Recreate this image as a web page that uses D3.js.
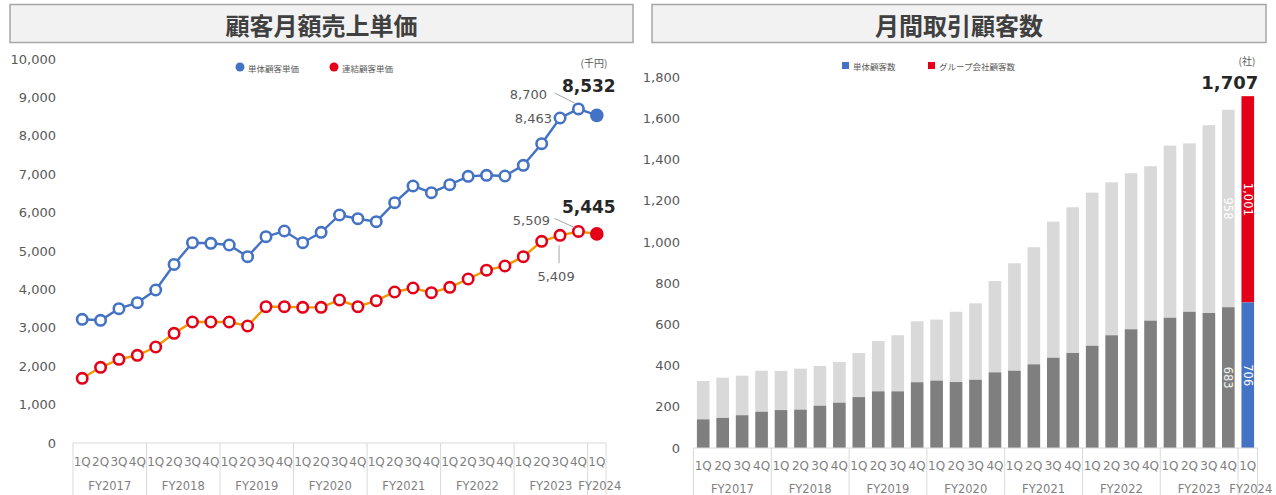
<!DOCTYPE html>
<html>
<head>
<meta charset="utf-8">
<script src="https://cdn.jsdelivr.net/npm/d3@7"></script>
<style>
  body { margin: 0; background: #fff; }
  svg { display: block; font-family: "Noto Sans CJK JP", "Noto Sans", sans-serif; }
</style>
</head>
<body>
<svg id="chart" width="1276" height="495"></svg>
<script>
// quarters / fiscal years shared by both charts
const quarters = ["1Q","2Q","3Q","4Q","1Q","2Q","3Q","4Q","1Q","2Q","3Q","4Q","1Q","2Q","3Q","4Q",
  "1Q","2Q","3Q","4Q","1Q","2Q","3Q","4Q","1Q","2Q","3Q","4Q","1Q"];
const years = ["FY2017","FY2018","FY2019","FY2020","FY2021","FY2022","FY2023","FY2024"];
const yearQuarters = [4, 4, 4, 4, 4, 4, 4, 1];

// left: 顧客月額売上単価 (千円)
const priceSingle = [3221, 3195, 3498, 3654, 3984, 4650, 5216, 5201, 5156, 4852, 5372, 5521, 5216, 5487,
  5938, 5841, 5763, 6258, 6693, 6518, 6727, 6945, 6971, 6953, 7232, 7794, 8463, 8700, 8532];
const priceConsol = [1685, 1971, 2180, 2284, 2500, 2857, 3151, 3151, 3151, 3047, 3550, 3550, 3533, 3533,
  3724, 3550, 3706, 3932, 4036, 3914, 4055, 4271, 4500, 4609, 4852, 5252, 5409, 5509, 5445];
const priceTicks = [0, 1000, 2000, 3000, 4000, 5000, 6000, 7000, 8000, 9000, 10000];

// right: 月間取引顧客数 (社)
const custSingle = [139, 146, 159, 176, 184, 186, 205, 220, 247, 275, 275, 319, 327, 320, 331, 367, 375,
  406, 438, 461, 496, 547, 576, 618, 632, 661, 655, 683, 706];
const custGroup = [186, 195, 192, 199, 190, 199, 193, 197, 214, 244, 272, 296, 296, 341, 371, 443, 521,
  568, 660, 707, 743, 742, 757, 749, 835, 817, 911, 958, 1001];
const custTicks = [0, 200, 400, 600, 800, 1000, 1200, 1400, 1600, 1800];

const svg = d3.select('#chart');
const fmt = d3.format(',');
const n = quarters.length;
const idx = d3.range(n);

const C_BLUE = '#4472c4';
const C_RED = '#e50019';
const C_ORANGE = '#f39800';
const C_TEXT = '#595959';
const C_CAT = '#7f7f7f';
const C_AXIS = '#d9d9d9';

function title_box(x, w, label) {
  svg.append('rect')
    .attr('x', x).attr('y', 4.5)
    .attr('width', w).attr('height', 38)
    .style('fill', '#f2f2f2')
    .style('stroke', '#a6a6a6')
    .style('stroke-width', 1.5);
  svg.append('text')
    .attr('x', x + w / 2).attr('y', 24)
    .attr('text-anchor', 'middle')
    .attr('dominant-baseline', 'central')
    .style('font-size', '24px')
    .style('font-weight', 'bold')
    .style('fill', '#404040')
    .text(label);
}

function y_axis(scale, ticks, x) {
  let g = svg.append('g')
    .attr('transform', 'translate(' + x + ',0)')
    .call(d3.axisLeft(scale).tickValues(ticks).tickFormat(fmt).tickSize(0).tickPadding(0));
  g.select('.domain').remove();
  g.selectAll('text')
    .style('font-family', '"DejaVu Sans", sans-serif')
    .style('font-size', '13px')
    .style('fill', C_TEXT);
}

// multi-level category axis (quarter row + fiscal year row)
function cat_axis(xs, y0, yq, yy) {
  let r = xs.range();
  let half = (xs.step() - xs.bandwidth()) / 2;
  svg.append('line')
    .attr('x1', r[0]).attr('x2', r[1])
    .attr('y1', y0).attr('y2', y0)
    .style('stroke', C_AXIS);

  svg.append('g').selectAll('text')
    .data(idx).join('text')
    .attr('x', i => xs(i) + xs.bandwidth() / 2)
    .attr('y', yq)
    .attr('text-anchor', 'middle')
    .attr('dominant-baseline', 'central')
    .style('font-family', '"DejaVu Sans", sans-serif')
    .style('font-size', '12px')
    .style('fill', C_CAT)
    .text(i => quarters[i]);

  let start = 0;
  for (let k = 0; k < years.length; k++) {
    let a = start, b = start + yearQuarters[k] - 1;
    let xa = xs(a) - half;
    let xb = xs(b) + xs.bandwidth() + half;
    svg.append('line')
      .attr('x1', xa).attr('x2', xa)
      .attr('y1', y0).attr('y2', 495)
      .style('stroke', C_AXIS);
    if (k == years.length - 1)
      svg.append('line')
        .attr('x1', xb).attr('x2', xb)
        .attr('y1', y0).attr('y2', 495)
        .style('stroke', C_AXIS);
    svg.append('text')
      .attr('x', (xa + xb) / 2 + (k == years.length - 1 ? 3 : 0))
      .attr('y', yy)
      .attr('text-anchor', 'middle')
      .attr('dominant-baseline', 'central')
      .style('font-family', '"DejaVu Sans", sans-serif')
      .style('font-size', '11.5px')
      .style('fill', C_CAT)
      .text(years[k]);
    start += yearQuarters[k];
  }
}

function label(x, y, txt, anchor, size, bold, color) {
  svg.append('text')
    .attr('x', x).attr('y', y)
    .attr('text-anchor', anchor)
    .attr('dominant-baseline', 'central')
    .style('font-family', '"DejaVu Sans", sans-serif')
    .style('font-size', size + 'px')
    .style('font-weight', bold ? 'bold' : 'normal')
    .style('fill', color)
    .text(txt);
}

function leader(x1, y1, x2, y2) {
  svg.append('line')
    .attr('x1', x1).attr('y1', y1).attr('x2', x2).attr('y2', y2)
    .style('stroke', '#a6a6a6')
    .style('stroke-width', 1);
}

/*
 * Left chart: line chart.
 */
title_box(10, 623, '顧客月額売上単価');

let xL = d3.scaleBand().domain(idx).range([73, 606]).padding(0);
let yL = d3.scaleLinear().domain([0, 10000]).range([443, 59]);
let cx = i => xL(i) + xL.bandwidth() / 2;

y_axis(yL, priceTicks, 56);
cat_axis(xL, 443, 462, 486);

let lineL = d3.line().x((d, i) => cx(i)).y(d => yL(d));

[[priceSingle, C_BLUE, C_BLUE], [priceConsol, C_ORANGE, C_RED]].forEach(([vals, lc, mc]) => {
  svg.append('path')
    .datum(vals)
    .attr('d', lineL)
    .style('fill', 'none')
    .style('stroke', lc)
    .style('stroke-width', 2.4);
  svg.append('g').selectAll('circle')
    .data(vals.slice(0, n - 1)).join('circle')
    .attr('cx', (d, i) => cx(i))
    .attr('cy', d => yL(d))
    .attr('r', 5.2)
    .style('fill', '#fff')
    .style('stroke', mc)
    .style('stroke-width', 2.6);
  svg.append('circle')
    .attr('cx', cx(n - 1))
    .attr('cy', yL(vals[n - 1]))
    .attr('r', 6.8)
    .style('fill', mc);
});

// legend (left)
svg.append('circle').attr('cx', 240).attr('cy', 67).attr('r', 4.5).style('fill', C_BLUE);
svg.append('text').attr('x', 248).attr('y', 68).attr('dominant-baseline', 'central')
  .style('font-size', '8.5px').style('fill', C_TEXT).text('単体顧客単価');
svg.append('circle').attr('cx', 334).attr('cy', 67).attr('r', 4.5).style('fill', C_RED);
svg.append('text').attr('x', 342).attr('y', 68).attr('dominant-baseline', 'central')
  .style('font-size', '8.5px').style('fill', C_TEXT).text('連結顧客単価');
svg.append('text').attr('x', 594).attr('y', 62).attr('text-anchor', 'middle')
  .attr('dominant-baseline', 'central')
  .style('font-size', '10px').style('fill', C_TEXT).text('(千円)');

// data labels (left)
label(cx(n - 1) - 8, yL(priceSingle[n - 1]) - 29, fmt(priceSingle[n - 1]), 'middle', 17, true, '#262626');
label(cx(n - 2) - 50, yL(priceSingle[n - 2]) - 14, fmt(priceSingle[n - 2]), 'middle', 13, false, C_TEXT);
leader(cx(n - 2) - 24, yL(priceSingle[n - 2]) - 16, cx(n - 2) - 4, yL(priceSingle[n - 2]) - 6);
label(cx(n - 3) - 8, yL(priceSingle[n - 3]), fmt(priceSingle[n - 3]), 'end', 13, false, C_TEXT);

label(cx(n - 1) - 8, yL(priceConsol[n - 1]) - 27, fmt(priceConsol[n - 1]), 'middle', 17, true, '#262626');
label(cx(n - 2) - 47, yL(priceConsol[n - 2]) - 11, fmt(priceConsol[n - 2]), 'middle', 13, false, C_TEXT);
leader(cx(n - 2) - 24, yL(priceConsol[n - 2]) - 13, cx(n - 2) - 4, yL(priceConsol[n - 2]) - 4);
label(cx(n - 3) - 4, yL(priceConsol[n - 3]) + 41, fmt(priceConsol[n - 3]), 'middle', 13, false, C_TEXT);
leader(cx(n - 3) - 1, yL(priceConsol[n - 3]) + 10, cx(n - 3) - 1, yL(priceConsol[n - 3]) + 28);

/*
 * Right chart: stacked bars.
 */
title_box(652, 614, '月間取引顧客数');

let xR = d3.scaleBand().domain(idx).range([693.5, 1257.5]).paddingInner(0.35).paddingOuter(0.175);
let yR = d3.scaleLinear().domain([0, 1800]).range([448, 77]);

y_axis(yR, custTicks, 680);

let last = n - 1;
svg.append('g').selectAll('rect')
  .data(idx).join('rect')
  .attr('x', i => xR(i))
  .attr('width', xR.bandwidth())
  .attr('y', i => yR(custSingle[i] + custGroup[i]))
  .attr('height', i => yR(custSingle[i]) - yR(custSingle[i] + custGroup[i]))
  .style('fill', i => i == last ? C_RED : '#d9d9d9');
svg.append('g').selectAll('rect')
  .data(idx).join('rect')
  .attr('x', i => xR(i))
  .attr('width', xR.bandwidth())
  .attr('y', i => yR(custSingle[i]))
  .attr('height', i => yR(0) - yR(custSingle[i]))
  .style('fill', i => i == last ? C_BLUE : '#7f7f7f');

cat_axis(xR, 448, 466, 489);

// rotated bar labels
function vlabel(i, v, y, color) {
  let x = xR(i) + xR.bandwidth() / 2;
  svg.append('text')
    .attr('transform', 'translate(' + x + ',' + y + ') rotate(90)')
    .attr('text-anchor', 'middle')
    .attr('dominant-baseline', 'central')
    .style('font-family', '"DejaVu Sans", sans-serif')
    .style('font-size', '11.5px')
    .style('fill', color)
    .text(fmt(v));
}
vlabel(n - 2, custSingle[n - 2], (yR(0) + yR(custSingle[n - 2])) / 2, '#f2f2f2');
vlabel(n - 2, custGroup[n - 2], (yR(custSingle[n - 2]) + yR(custSingle[n - 2] + custGroup[n - 2])) / 2, '#ffffff');
vlabel(last, custSingle[last], (yR(0) + yR(custSingle[last])) / 2, '#ffffff');
vlabel(last, custGroup[last], (yR(custSingle[last]) + yR(custSingle[last] + custGroup[last])) / 2, '#ffffff');

label(xR(last) + xR.bandwidth() / 2 - 18, yR(custSingle[last] + custGroup[last]) - 14,
  fmt(custSingle[last] + custGroup[last]), 'middle', 18, true, '#262626');

// legend (right)
svg.append('rect').attr('x', 842).attr('y', 62).attr('width', 7).attr('height', 7).style('fill', C_BLUE);
svg.append('text').attr('x', 853).attr('y', 66).attr('dominant-baseline', 'central')
  .style('font-size', '8.5px').style('fill', C_TEXT).text('単体顧客数');
svg.append('rect').attr('x', 928).attr('y', 62).attr('width', 7).attr('height', 7).style('fill', C_RED);
svg.append('text').attr('x', 939).attr('y', 66).attr('dominant-baseline', 'central')
  .style('font-size', '8.5px').style('fill', C_TEXT).text('グループ会社顧客数');
svg.append('text').attr('x', 1247).attr('y', 60).attr('text-anchor', 'middle')
  .attr('dominant-baseline', 'central')
  .style('font-size', '10px').style('fill', C_TEXT).text('(社)');
</script>
</body>
</html>
